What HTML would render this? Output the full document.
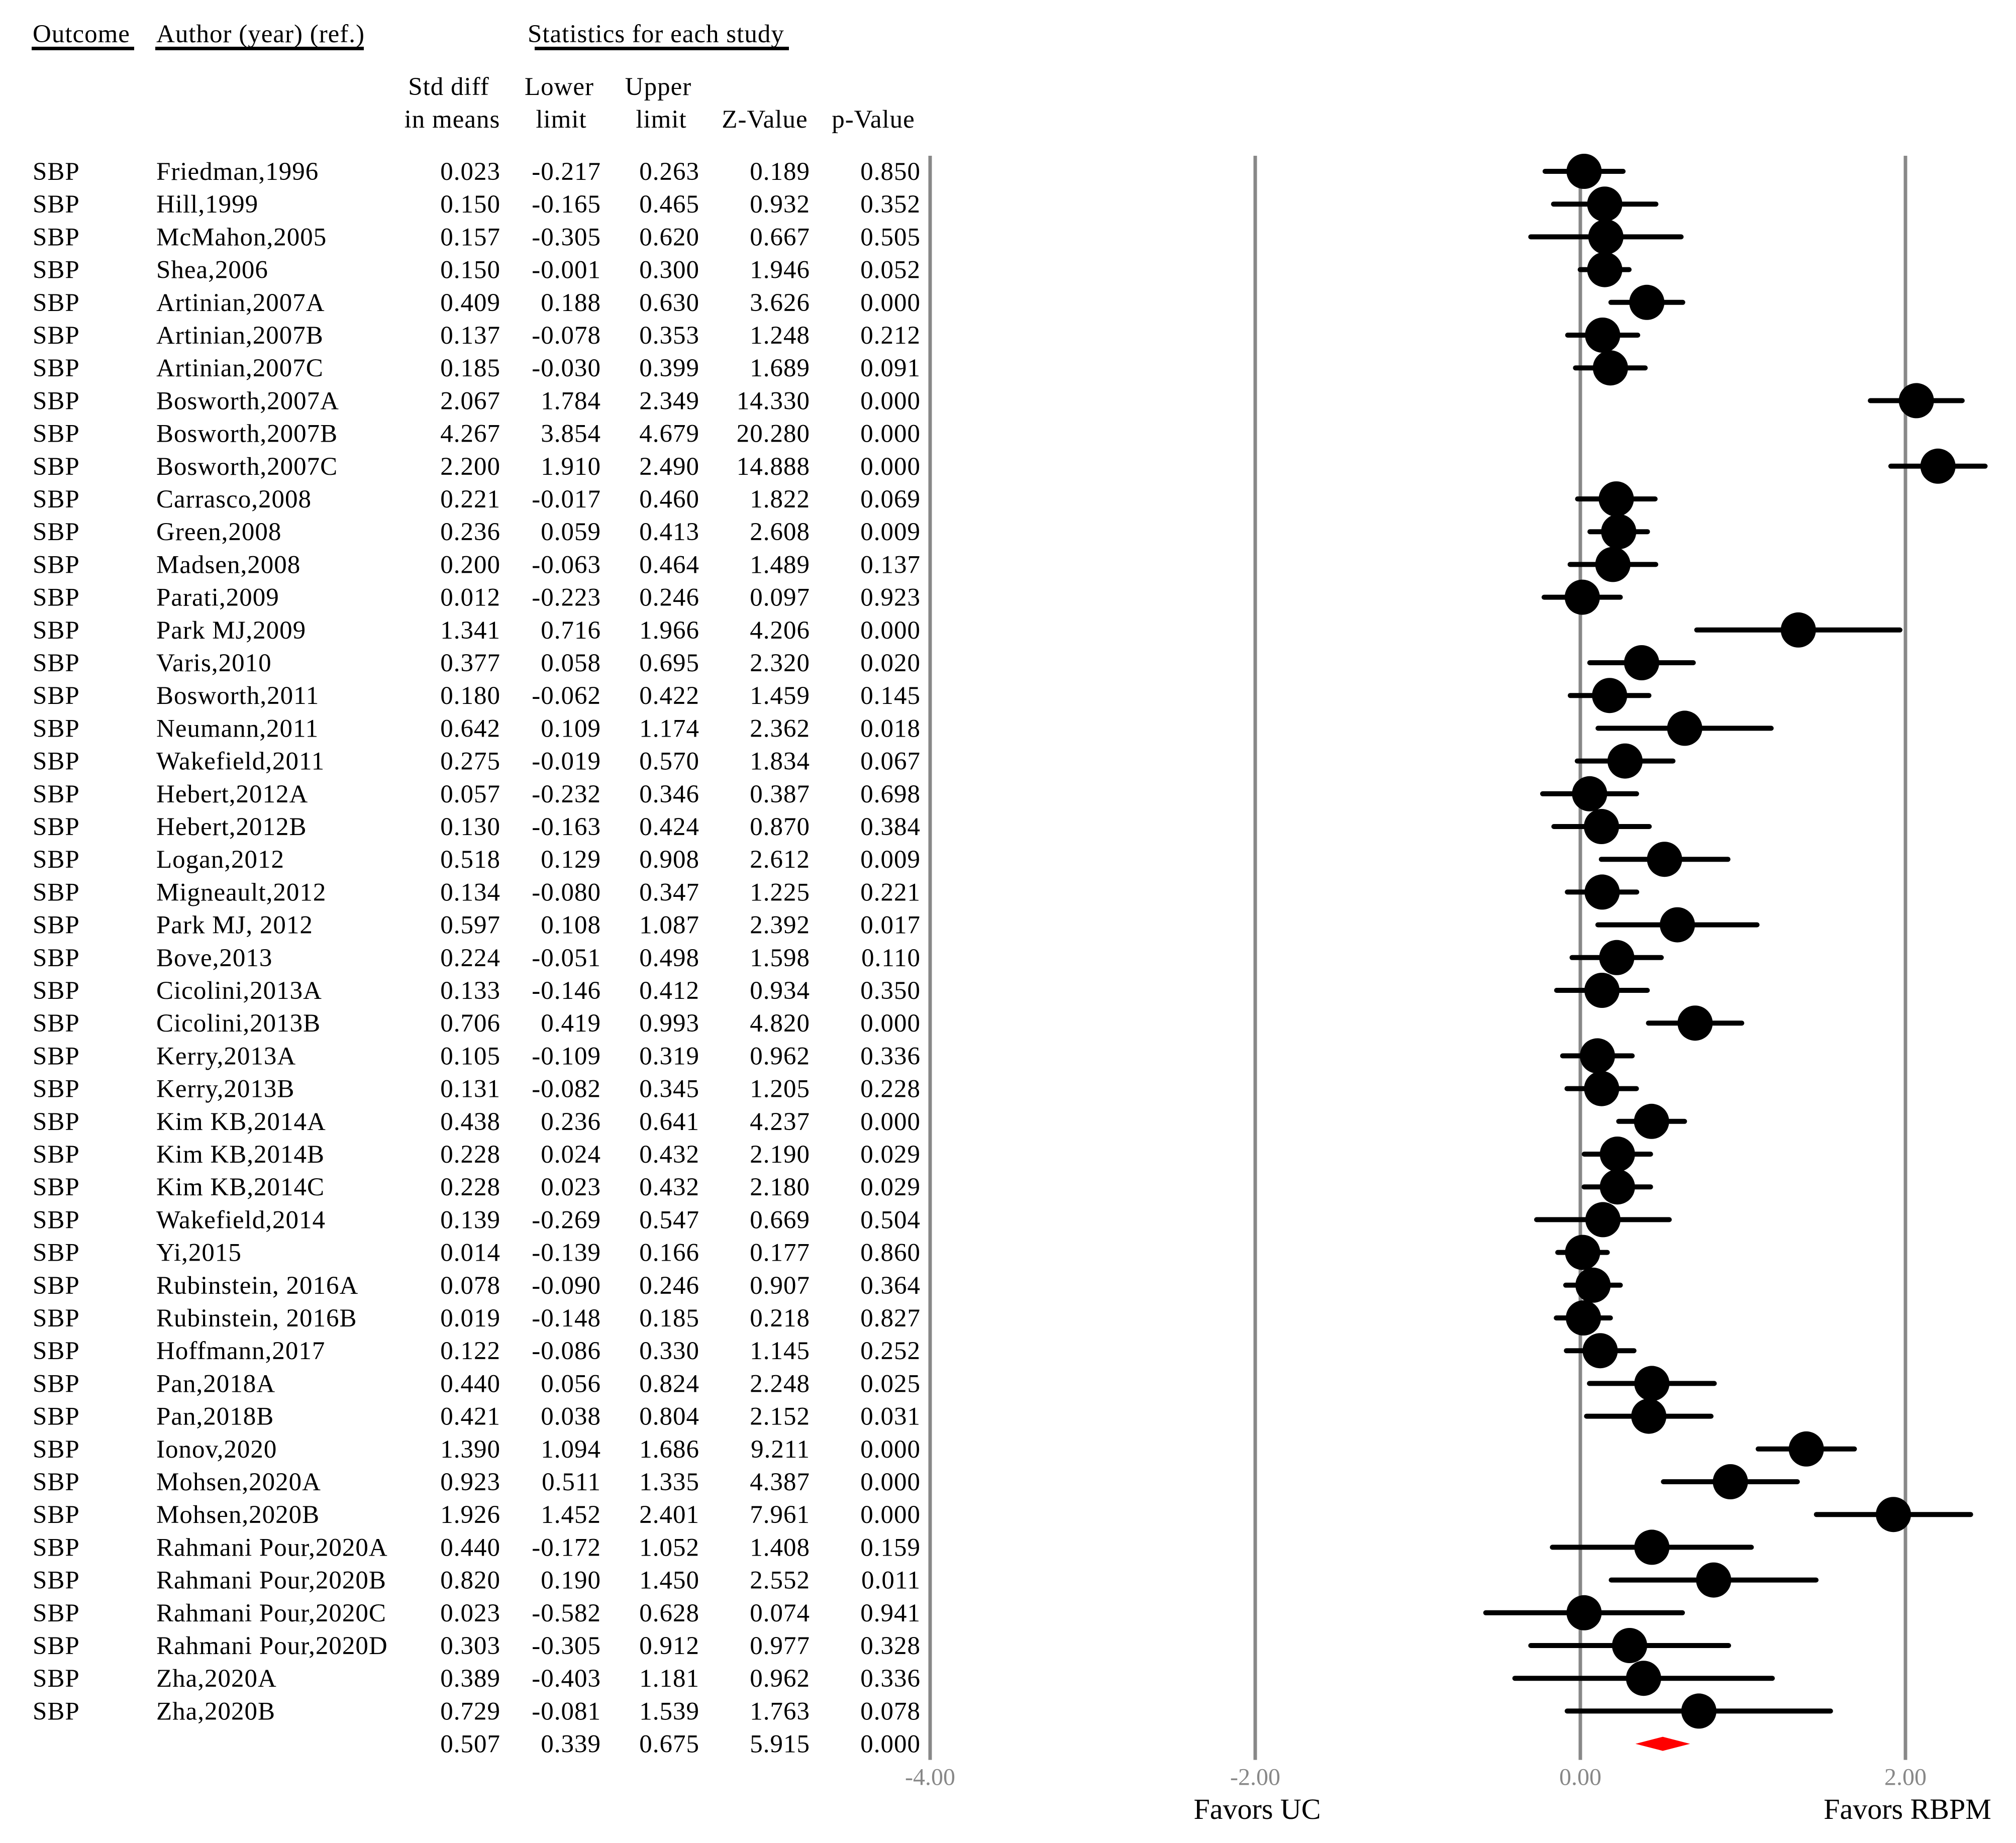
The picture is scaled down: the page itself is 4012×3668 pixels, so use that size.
<!DOCTYPE html>
<html><head><meta charset="utf-8"><style>
html,body{margin:0;padding:0;background:#fff;}
svg{display:block;font-family:"Liberation Serif",serif;}
</style></head><body>
<svg id="chart" width="4012" height="3668" viewBox="0 0 4012 3668" xmlns="http://www.w3.org/2000/svg">
<g font-size="51" fill="#000" letter-spacing="1">
<text x="65" y="84">Outcome</text>
<rect x="63" y="93" width="204" height="7"/>
<text x="311" y="84">Author (year) (ref.)</text>
<rect x="309" y="93" width="415" height="7"/>
<text x="1050" y="84">Statistics for each study</text>
<rect x="1064" y="93" width="506" height="7"/>
<text x="893" y="189" text-anchor="middle">Std diff</text>
<text x="900" y="254" text-anchor="middle">in means</text>
<text x="1113" y="189" text-anchor="middle">Lower</text>
<text x="1117" y="254" text-anchor="middle">limit</text>
<text x="1310" y="189" text-anchor="middle">Upper</text>
<text x="1316" y="254" text-anchor="middle">limit</text>
<text x="1522" y="254" text-anchor="middle">Z-Value</text>
<text x="1738" y="254" text-anchor="middle">p-Value</text>
</g>
<g id="grid"></g>
<g id="rows" font-size="51" letter-spacing="1"></g>
<g id="marks"></g>
<text x="2502" y="3620" font-size="58" text-anchor="middle">Favors UC</text>
<text x="3796" y="3620" font-size="58" text-anchor="middle">Favors RBPM</text>
</svg>
<script>
const studies = ["Friedman,1996","Hill,1999","McMahon,2005","Shea,2006","Artinian,2007A","Artinian,2007B","Artinian,2007C","Bosworth,2007A","Bosworth,2007B","Bosworth,2007C","Carrasco,2008","Green,2008","Madsen,2008","Parati,2009","Park MJ,2009","Varis,2010","Bosworth,2011","Neumann,2011","Wakefield,2011","Hebert,2012A","Hebert,2012B","Logan,2012","Migneault,2012","Park MJ, 2012","Bove,2013","Cicolini,2013A","Cicolini,2013B","Kerry,2013A","Kerry,2013B","Kim KB,2014A","Kim KB,2014B","Kim KB,2014C","Wakefield,2014","Yi,2015","Rubinstein, 2016A","Rubinstein, 2016B","Hoffmann,2017","Pan,2018A","Pan,2018B","Ionov,2020","Mohsen,2020A","Mohsen,2020B","Rahmani Pour,2020A","Rahmani Pour,2020B","Rahmani Pour,2020C","Rahmani Pour,2020D","Zha,2020A","Zha,2020B"];
const est = [0.023,0.150,0.157,0.150,0.409,0.137,0.185,2.067,4.267,2.200,0.221,0.236,0.200,0.012,1.341,0.377,0.180,0.642,0.275,0.057,0.130,0.518,0.134,0.597,0.224,0.133,0.706,0.105,0.131,0.438,0.228,0.228,0.139,0.014,0.078,0.019,0.122,0.440,0.421,1.390,0.923,1.926,0.440,0.820,0.023,0.303,0.389,0.729];
const lower = [-0.217,-0.165,-0.305,-0.001,0.188,-0.078,-0.030,1.784,3.854,1.910,-0.017,0.059,-0.063,-0.223,0.716,0.058,-0.062,0.109,-0.019,-0.232,-0.163,0.129,-0.080,0.108,-0.051,-0.146,0.419,-0.109,-0.082,0.236,0.024,0.023,-0.269,-0.139,-0.090,-0.148,-0.086,0.056,0.038,1.094,0.511,1.452,-0.172,0.190,-0.582,-0.305,-0.403,-0.081];
const upper = [0.263,0.465,0.620,0.300,0.630,0.353,0.399,2.349,4.679,2.490,0.460,0.413,0.464,0.246,1.966,0.695,0.422,1.174,0.570,0.346,0.424,0.908,0.347,1.087,0.498,0.412,0.993,0.319,0.345,0.641,0.432,0.432,0.547,0.166,0.246,0.185,0.330,0.824,0.804,1.686,1.335,2.401,1.052,1.450,0.628,0.912,1.181,1.539];
const zval = ["0.189","0.932","0.667","1.946","3.626","1.248","1.689","14.330","20.280","14.888","1.822","2.608","1.489","0.097","4.206","2.320","1.459","2.362","1.834","0.387","0.870","2.612","1.225","2.392","1.598","0.934","4.820","0.962","1.205","4.237","2.190","2.180","0.669","0.177","0.907","0.218","1.145","2.248","2.152","9.211","4.387","7.961","1.408","2.552","0.074","0.977","0.962","1.763"];
const pval = ["0.850","0.352","0.505","0.052","0.000","0.212","0.091","0.000","0.000","0.000","0.069","0.009","0.137","0.923","0.000","0.020","0.145","0.018","0.067","0.698","0.384","0.009","0.221","0.017","0.110","0.350","0.000","0.336","0.228","0.000","0.029","0.029","0.504","0.860","0.364","0.827","0.252","0.025","0.031","0.000","0.000","0.000","0.159","0.011","0.941","0.328","0.336","0.078"];
const summary = [0.507,0.339,0.675];
const summaryText = ["5.915","0.000"];
const ticks = [-4,-2,0,2];
const tickLabels = ["-4.00","-2.00","0.00","2.00"];
const X0=3145, UNIT=323.5, Y0=341, DY=65.2;
const xs = v => X0 + v*UNIT;
const ys = i => Y0 + i*DY;
const NS="http://www.w3.org/2000/svg";
function mk(tag, attrs, parent){const e=document.createElementNS(NS,tag);for(const k in attrs)e.setAttribute(k,attrs[k]);parent.appendChild(e);return e;}
const grid=document.getElementById('grid'), rows=document.getElementById('rows'), marks=document.getElementById('marks');
const n=studies.length;
const yTop=310, yBot=ys(n)+32;
ticks.forEach((t,i)=>{
  const l=mk('line',{x1:xs(t),x2:xs(t),y1:yTop,y2:yBot,stroke:'#888','stroke-width':7},grid);
  
  
  const tx=mk('text',{x:xs(t),y:ys(n)+82,'text-anchor':'middle','font-size':48,fill:'#888'},grid);
  tx.textContent=tickLabels[i];
  
  
});
function addText(x,y,s,anchor,name){
  const t=mk('text',{x:x,y:y+17,'text-anchor':anchor},rows);
  t.textContent=s;
  
  
}
for(let i=0;i<n;i++){
  const y=ys(i);
  addText(65,y,'SBP','start','outcome-cell');
  addText(311,y,studies[i],'start','author-cell');
  addText(996,y,est[i].toFixed(3),'end','std-diff-cell');
  addText(1196,y,lower[i].toFixed(3),'end','lower-limit-cell');
  addText(1392,y,upper[i].toFixed(3),'end','upper-limit-cell');
  addText(1612,y,zval[i],'end','z-value-cell');
  addText(1832,y,pval[i],'end','p-value-cell');
  const ln=mk('line',{x1:xs(lower[i]),x2:xs(upper[i]),y1:y,y2:y,stroke:'#000','stroke-width':10,'stroke-linecap':'round'},marks);
  
  
  const c=mk('circle',{cx:xs(est[i]),cy:y,r:35,fill:'#000'},marks);
  
  
}
const ySum=ys(n);
addText(996,ySum,summary[0].toFixed(3),'end','summary-std-diff');
addText(1196,ySum,summary[1].toFixed(3),'end','summary-lower');
addText(1392,ySum,summary[2].toFixed(3),'end','summary-upper');
addText(1612,ySum,summaryText[0],'end','summary-z');
addText(1832,ySum,summaryText[1],'end','summary-p');
const d=mk('polygon',{points:`${xs(summary[1])},${ySum} ${xs(summary[0])},${ySum-14} ${xs(summary[2])},${ySum} ${xs(summary[0])},${ySum+14}`,fill:'#f00'},marks);


</script>
</body></html>
